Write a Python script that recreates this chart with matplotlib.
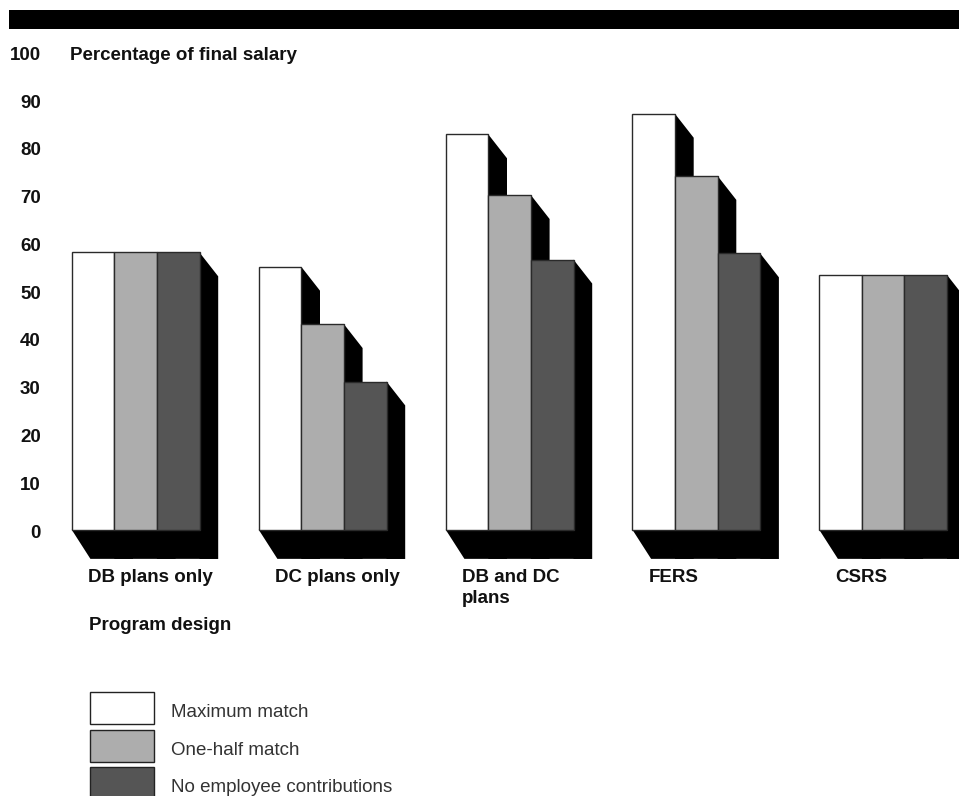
import matplotlib
matplotlib.use('Agg')
import matplotlib.pyplot as plt
from matplotlib.patches import Polygon, Rectangle
from matplotlib.transforms import ScaledTranslation

plt.rcParams['font.family'] = ['Liberation Sans', 'DejaVu Sans']

groups = ['DB plans only', 'DC plans only', 'DB and DC\nplans', 'FERS', 'CSRS']
series = ['Maximum match', 'One-half match', 'No employee contributions']
max_match = [58, 55, 82.7, 87, 53.3]
half_match = [58, 43, 70, 74, 53.3]
no_contrib = [58, 31, 56.5, 57.8, 53.3]
y_ticks = [0, 10, 20, 30, 40, 50, 60, 70, 80, 90, 100]

colors = ['#ffffff', '#adadad', '#555555']
W, H = 959, 796
FS = 13.5

fig = plt.figure(figsize=(W / 100, H / 100), dpi=100)
ax = fig.add_axes([45 / W, 0, (W - 45) / W, 1])

# x is in pixels, y in percent (47.8 px per 10)
y_zero = 529.7
per_unit = 4.78
ax.set_xlim(45, W)
ax.set_ylim(-(H - y_zero) / per_unit, y_zero / per_unit)

group_left = [71.7, 258.7, 445.7, 632.4, 819.2]
bar_w = 42.6
dx = 18.7
dy_top = 5.0
shadow_floor = -6.1

for g, left in enumerate(group_left):
    vals = [max_match[g], half_match[g], no_contrib[g]]
    right = left + 3 * bar_w
    # black extruded shadow first, bars go on top
    ax.add_patch(Polygon([(left, 0), (left + dx, shadow_floor), (right + dx, shadow_floor), (right, 0)],
                         closed=True, fc='black', ec='none'))
    for i, v in enumerate(vals):
        x1 = left + (i + 1) * bar_w
        ax.add_patch(Polygon([(x1, v), (x1 + dx, v - dy_top), (x1 + dx, shadow_floor), (x1, shadow_floor)],
                             closed=True, fc='black', ec='none'))
    ax.bar([left + i * bar_w for i in range(3)], vals, width=bar_w, align='edge',
           color=colors, edgecolor='#2a2a2a', linewidth=1.0, zorder=3)

ax.set_yticks(y_ticks)
ax.set_yticklabels([str(t) for t in y_ticks], fontsize=FS, fontweight='bold', color='#111111')
ax.tick_params(axis='y', length=0, pad=3)
ax.set_xticks([])
for s in ax.spines.values():
    s.set_visible(False)
ax.patch.set_alpha(0)
shift = ScaledTranslation(0, -1.5 / 100, fig.dpi_scale_trans)
for lab in ax.get_yticklabels():
    lab.set_transform(lab.get_transform() + shift)


def px_text(x, y, s, **kw):
    fig.text(x / W, 1 - y / H, s, **kw)


# top band
fig.add_artist(Rectangle((9 / W, 1 - 28.5 / H), (W - 9) / W, 18.5 / H, transform=fig.transFigure,
                         fc='black', ec='none'))
px_text(70, 56, 'Percentage of final salary', fontsize=FS, fontweight='bold',
        color='#111111', va='center', ha='left')

label_x = [88, 275, 462, 649, 835]
for name, x in zip(groups, label_x):
    px_text(x, 568.5, name, fontsize=FS, fontweight='bold', color='#111111', va='top', ha='left', linespacing=1.36)
px_text(89, 626, 'Program design', fontsize=FS, fontweight='bold', color='#111111', va='center', ha='left')

# legend
swatch_y = [692, 730, 767]
for name, c, y in zip(series, colors, swatch_y):
    fig.add_artist(Rectangle((90.3 / W, 1 - (y + 32) / H), 64 / W, 32 / H, transform=fig.transFigure,
                             fc=c, ec='#222222', lw=1.0))
    px_text(171, y + 20.5, name, fontsize=FS, color='#333333', va='center', ha='left')

fig.savefig('out.png', dpi=100)
